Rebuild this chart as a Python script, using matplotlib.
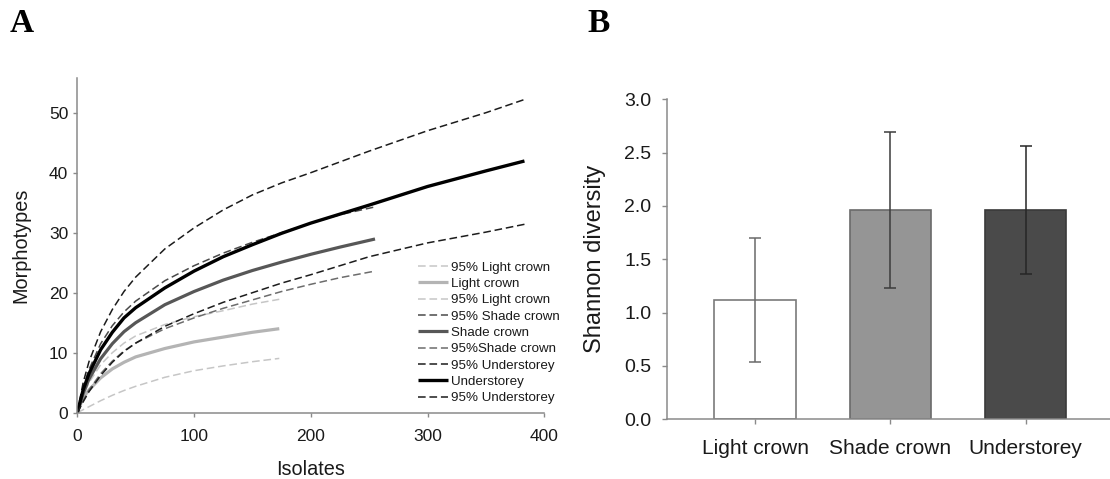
import matplotlib
matplotlib.use("Agg")
import matplotlib.pyplot as plt
import numpy as np

plt.rcParams['font.family'] = ['Liberation Sans', 'DejaVu Sans']

# --- rarefaction curves (A) ---
light_x = [0, 5, 10, 20, 30, 40, 50, 75, 100, 125, 150, 173]
light_mean = [0, 2.5, 3.8, 5.8, 7.3, 8.4, 9.3, 10.7, 11.8, 12.6, 13.4, 14.0]
light_upper = [0, 2.8, 5.0, 8.0, 10.0, 11.6, 12.8, 14.7, 16.0, 17.0, 18.1, 18.9]
light_lower = [0, 0.5, 1.0, 2.0, 2.9, 3.7, 4.4, 5.9, 7.0, 7.8, 8.5, 9.05]

shade_x = [0, 5, 10, 20, 30, 40, 50, 75, 100, 125, 150, 175, 200, 225, 255]
shade_mean = [0, 3.2, 5.6, 9.0, 11.5, 13.5, 15.0, 18.0, 20.2, 22.1, 23.7, 25.1, 26.4, 27.6, 28.95]
shade_upper = [0, 4.2, 7.2, 11.5, 14.5, 16.8, 18.6, 22.0, 24.5, 26.6, 28.4, 30.0, 31.6, 33.0, 34.3]
shade_lower = [0, 2.0, 3.8, 6.5, 8.6, 10.3, 11.6, 14.0, 15.8, 17.4, 18.8, 20.2, 21.4, 22.5, 23.6]

under_x = [0, 5, 10, 20, 30, 40, 50, 75, 100, 125, 150, 175, 200, 250, 300, 350, 383]
under_mean = [0, 3.8, 6.5, 10.5, 13.4, 15.8, 17.5, 20.8, 23.6, 26.0, 28.0, 29.9, 31.6, 34.6, 37.7, 40.3, 41.95]
under_upper = [0, 5.0, 8.5, 13.5, 17.2, 20.2, 22.6, 27.3, 30.8, 33.8, 36.3, 38.3, 40.0, 43.6, 47.0, 50.0, 52.2]
under_lower = [0, 1.8, 3.5, 6.2, 8.4, 10.2, 11.6, 14.4, 16.5, 18.4, 20.0, 21.6, 23.0, 26.0, 28.3, 30.1, 31.4]

# --- Shannon diversity (B) ---
habitats = ['Light crown', 'Shade crown', 'Understorey']
shannon = [1.12, 1.96, 1.96]
shannon_low = [0.54, 1.23, 1.36]
shannon_high = [1.70, 2.69, 2.56]

W, H = 1110, 479
fig = plt.figure(figsize=(W / 100, H / 100), dpi=100)

axis_grey = '#8a8a8a'
text_col = '#1a1a1a'

# ---------------- panel A ----------------
axA = fig.add_axes([77.3 / W, 1 - 412.7 / H, 467 / W, (412.7 - 77.9) / H])

dash = (5, 2.5)
curves = [
    (light_x, light_upper, '95% Light crown', '#c6c6c6', 1.1, True),
    (light_x, light_mean, 'Light crown', '#b4b4b4', 2.3, False),
    (light_x, light_lower, '95% Light crown', '#c6c6c6', 1.1, True),
    (shade_x, shade_upper, '95% Shade crown', '#4a4a4a', 1.1, True),
    (shade_x, shade_mean, 'Shade crown', '#575757', 2.3, False),
    (shade_x, shade_lower, '95%Shade crown', '#6c6c6c', 1.1, True),
    (under_x, under_upper, '95% Understorey', '#1c1c1c', 1.1, True),
    (under_x, under_mean, 'Understorey', '#000000', 2.4, False),
    (under_x, under_lower, '95% Understorey', '#1c1c1c', 1.1, True),
]
for xs, ys, lab, col, lw, dashed in curves:
    line, = axA.plot(xs, ys, color=col, lw=lw, label=lab, solid_capstyle='butt')
    if dashed:
        line.set_dashes(dash)

axA.set_xlim(0, 400)
axA.set_ylim(0, 55.8)
axA.set_xticks([0, 100, 200, 300, 400])
axA.set_yticks([0, 10, 20, 30, 40, 50])
for s in ['top', 'right']:
    axA.spines[s].set_visible(False)
for s in ['left', 'bottom']:
    axA.spines[s].set_color(axis_grey)
    axA.spines[s].set_linewidth(1.1)
axA.tick_params(axis='both', direction='out', length=3, width=1, color=axis_grey,
                labelsize=12.5, labelcolor=text_col)
axA.tick_params(axis='x', pad=8.5)
axA.tick_params(axis='y', pad=3.5)
axA.set_xlabel('Isolates', fontsize=14.3, color=text_col)
axA.set_ylabel('Morphotypes', fontsize=14.3, color=text_col)
axA.xaxis.set_label_coords(0.5, -0.141)
axA.yaxis.set_label_coords((30.4 - 77.3) / 467, 0.5)

leg = axA.legend(loc='upper left', bbox_to_anchor=(418 / W, 1 - 261.5 / H),
                 bbox_transform=fig.transFigure, frameon=False, fontsize=9.6,
                 handlelength=2.25, handletextpad=0.25, labelspacing=0.3,
                 borderpad=0, borderaxespad=0)
for t in leg.get_texts():
    t.set_color(text_col)

# ---------------- panel B ----------------
axB = fig.add_axes([666.7 / W, 1 - 419.3 / H, (W - 666.7) / W, (419.3 - 99.3) / H])
pos = np.arange(len(habitats))
bar_fill = ['#ffffff', '#959595', '#4a4a4a']
bar_edge = ['#7a7a7a', '#6a6a6a', '#3a3a3a']
err_col = ['#6a6a6a', '#3c3c3c', '#262626']
axB.bar(pos, shannon, width=0.6, color=bar_fill, edgecolor=bar_edge, linewidth=1.2)
for i in range(len(habitats)):
    axB.errorbar(pos[i], shannon[i],
                 yerr=[[shannon[i] - shannon_low[i]], [shannon_high[i] - shannon[i]]],
                 fmt='none', ecolor=err_col[i], elinewidth=1.1, capsize=4, capthick=1.1)

axB.set_xlim(-0.653, 2.623)
axB.set_ylim(0, 3.0)
axB.set_yticks(np.arange(0, 3.01, 0.5))
axB.set_yticklabels([f'{v:.1f}' for v in np.arange(0, 3.01, 0.5)])
axB.set_xticks(pos)
axB.set_xticklabels(habitats, fontsize=15)
for s in ['top', 'right']:
    axB.spines[s].set_visible(False)
for s in ['left', 'bottom']:
    axB.spines[s].set_color(axis_grey)
    axB.spines[s].set_linewidth(1.1)
axB.tick_params(axis='both', direction='out', length=3.5, width=1, color=axis_grey,
                labelcolor=text_col)
axB.tick_params(axis='y', labelsize=14, pad=7.5)
axB.tick_params(axis='x', pad=10.5)
axB.set_ylabel('Shannon diversity', fontsize=17, color=text_col)
axB.yaxis.set_label_coords((605.6 - 666.7) / (W - 666.7), 0.5)

# panel letters
for letter, x in [('A', 10), ('B', 587)]:
    fig.text(x / W, 1 - 31.7 / H, letter, fontsize=24, fontweight='bold',
             family='Liberation Serif', color='black', va='baseline')

fig.savefig('out.png', dpi=100)
